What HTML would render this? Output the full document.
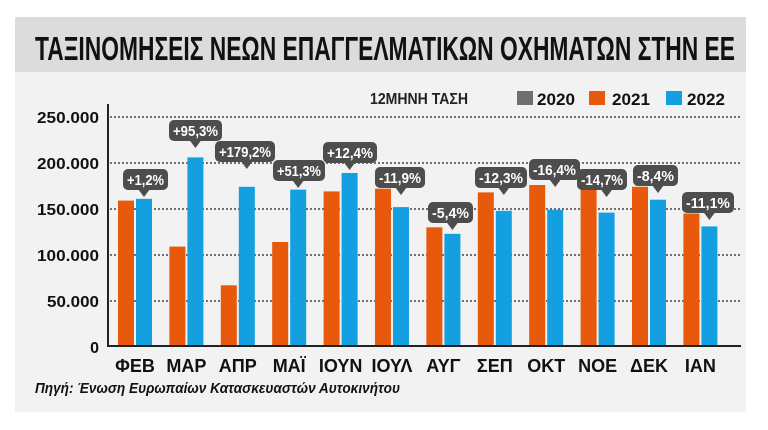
<!DOCTYPE html>
<html><head><meta charset="utf-8"><style>
html,body{margin:0;padding:0;background:#fff;}
svg{display:block;font-family:"Liberation Sans",sans-serif;}
</style></head><body>
<svg width="768" height="430" viewBox="0 0 768 430" xmlns="http://www.w3.org/2000/svg">
<rect x="15" y="17" width="731" height="395" fill="#f2f2f2"/>
<rect x="15" y="17" width="731" height="55" fill="#dcdcdc"/>
<text x="35" y="60" font-size="33" font-weight="bold" fill="#111" textLength="700" lengthAdjust="spacingAndGlyphs">ΤΑΞΙΝΟΜΗΣΕΙΣ ΝΕΩΝ ΕΠΑΓΓΕΛΜΑΤΙΚΩΝ ΟΧΗΜΑΤΩΝ ΣΤΗΝ ΕΕ</text>
<text x="370" y="104" font-size="16" font-weight="bold" fill="#222" textLength="98" lengthAdjust="spacingAndGlyphs">12ΜΗΝΗ ΤΑΣΗ</text>
<rect x="517" y="91" width="16" height="14" fill="#707070"/>
<text x="537" y="105" font-size="17" font-weight="bold" fill="#111" textLength="38" lengthAdjust="spacingAndGlyphs">2020</text>
<rect x="589" y="91" width="16" height="14" fill="#e8590c"/>
<text x="612" y="105" font-size="17" font-weight="bold" fill="#111" textLength="38" lengthAdjust="spacingAndGlyphs">2021</text>
<rect x="666" y="91" width="16" height="14" fill="#14a0e0"/>
<text x="687" y="105" font-size="17" font-weight="bold" fill="#111" textLength="38" lengthAdjust="spacingAndGlyphs">2022</text>
<g stroke="#444" stroke-width="1.5" stroke-dasharray="2,2">
<line x1="110" y1="117" x2="740" y2="117"/><line x1="110" y1="163" x2="740" y2="163"/><line x1="110" y1="209" x2="740" y2="209"/><line x1="110" y1="255" x2="740" y2="255"/><line x1="110" y1="301" x2="740" y2="301"/>
</g>
<g font-size="16" font-weight="bold" fill="#111" text-anchor="end">
<text x="99" y="123" textLength="62" lengthAdjust="spacingAndGlyphs">250.000</text><text x="99" y="169" textLength="62" lengthAdjust="spacingAndGlyphs">200.000</text><text x="99" y="215" textLength="62" lengthAdjust="spacingAndGlyphs">150.000</text><text x="99" y="261" textLength="62" lengthAdjust="spacingAndGlyphs">100.000</text><text x="99" y="307" textLength="52" lengthAdjust="spacingAndGlyphs">50.000</text><text x="99" y="353">0</text>
</g>
<g fill="#e8590c">
<rect x="118" y="200.6" width="16" height="145.4"/>
<rect x="169.4" y="246.6" width="16" height="99.4"/>
<rect x="220.8" y="285.3" width="16" height="60.7"/>
<rect x="272.2" y="242" width="16" height="104"/>
<rect x="323.6" y="191.4" width="16" height="154.6"/>
<rect x="375" y="188.7" width="16" height="157.3"/>
<rect x="426.4" y="227.3" width="16" height="118.7"/>
<rect x="477.8" y="192.4" width="16" height="153.6"/>
<rect x="529.2" y="185" width="16" height="161"/>
<rect x="580.6" y="188.7" width="16" height="157.3"/>
<rect x="632" y="186.8" width="16" height="159.2"/>
<rect x="683.4" y="213.5" width="16" height="132.5"/>
</g>
<g fill="#14a0e0">
<rect x="136" y="198.8" width="16" height="147.2"/>
<rect x="187.4" y="157.4" width="16" height="188.6"/>
<rect x="238.8" y="186.8" width="16" height="159.2"/>
<rect x="290.2" y="189.6" width="16" height="156.4"/>
<rect x="341.6" y="173" width="16" height="173"/>
<rect x="393" y="207.1" width="16" height="138.9"/>
<rect x="444.4" y="233.8" width="16" height="112.2"/>
<rect x="495.8" y="210.8" width="16" height="135.2"/>
<rect x="547.2" y="209.8" width="16" height="136.2"/>
<rect x="598.6" y="212.6" width="16" height="133.4"/>
<rect x="650" y="199.7" width="16" height="146.3"/>
<rect x="701.4" y="226.4" width="16" height="119.6"/>
</g>
<line x1="108" y1="104" x2="108" y2="347" stroke="#222" stroke-width="2"/>
<line x1="107" y1="346" x2="741" y2="346" stroke="#222" stroke-width="2"/>
<g font-size="18" font-weight="bold" fill="#111" text-anchor="middle">
<text x="135" y="372">ΦΕΒ</text><text x="186.4" y="372">ΜΑΡ</text><text x="237.8" y="372">ΑΠΡ</text><text x="289.2" y="372">ΜΑΪ</text><text x="340.6" y="372">ΙΟΥΝ</text><text x="392" y="372">ΙΟΥΛ</text><text x="443.4" y="372">ΑΥΓ</text><text x="494.8" y="372">ΣΕΠ</text><text x="546.2" y="372">ΟΚΤ</text><text x="597.6" y="372">ΝΟΕ</text><text x="649" y="372">ΔΕΚ</text><text x="700.4" y="372">ΙΑΝ</text>
</g>
<text x="35" y="393" font-size="15" font-weight="bold" font-style="italic" fill="#111" textLength="365" lengthAdjust="spacingAndGlyphs">Πηγή: Ένωση Ευρωπαίων Κατασκευαστών Αυτοκινήτου</text>
<g fill="#4d4d4d">
<rect x="123" y="169" width="45" height="21" rx="5"/><polygon points="138,189 150,189 144,197"/>
<rect x="169" y="120" width="53" height="21" rx="5"/><polygon points="189.4,140 201.4,140 195.4,148"/>
<rect x="215" y="141" width="60" height="21" rx="5"/><polygon points="240.8,161 252.8,161 246.8,169"/>
<rect x="273" y="160" width="52" height="21" rx="5"/><polygon points="292.2,180 304.2,180 298.2,188"/>
<rect x="323" y="142" width="54" height="21" rx="5"/><polygon points="343.6,162 355.6,162 349.6,170"/>
<rect x="375" y="167" width="50" height="21" rx="5"/><polygon points="395,187 407,187 401,195"/>
<rect x="428" y="202" width="45" height="21" rx="5"/><polygon points="446.4,222 458.4,222 452.4,230"/>
<rect x="475" y="167" width="52" height="21" rx="5"/><polygon points="497.8,187 509.8,187 503.8,195"/>
<rect x="529" y="159" width="51" height="21" rx="5"/><polygon points="549.2,179 561.2,179 555.2,187"/>
<rect x="577" y="169" width="50" height="21" rx="5"/><polygon points="600.6,189 612.6,189 606.6,197"/>
<rect x="633" y="165" width="45" height="21" rx="5"/><polygon points="652,185 664,185 658,193"/>
<rect x="682" y="192" width="52" height="21" rx="5"/><polygon points="703.4,212 715.4,212 709.4,220"/>
</g>
<g font-size="15" font-weight="bold" fill="#fff" text-anchor="middle" lengthAdjust="spacingAndGlyphs">
<text x="145.5" y="185" textLength="37" lengthAdjust="spacingAndGlyphs">+1,2%</text>
<text x="195.5" y="136" textLength="45" lengthAdjust="spacingAndGlyphs">+95,3%</text>
<text x="245" y="157" textLength="52" lengthAdjust="spacingAndGlyphs">+179,2%</text>
<text x="299" y="176" textLength="44" lengthAdjust="spacingAndGlyphs">+51,3%</text>
<text x="350" y="158" textLength="46" lengthAdjust="spacingAndGlyphs">+12,4%</text>
<text x="400" y="183" textLength="42" lengthAdjust="spacingAndGlyphs">-11,9%</text>
<text x="450.5" y="218" textLength="37" lengthAdjust="spacingAndGlyphs">-5,4%</text>
<text x="501" y="183" textLength="44" lengthAdjust="spacingAndGlyphs">-12,3%</text>
<text x="554.5" y="175" textLength="43" lengthAdjust="spacingAndGlyphs">-16,4%</text>
<text x="602" y="185" textLength="42" lengthAdjust="spacingAndGlyphs">-14,7%</text>
<text x="655.5" y="181" textLength="37" lengthAdjust="spacingAndGlyphs">-8,4%</text>
<text x="708" y="208" textLength="44" lengthAdjust="spacingAndGlyphs">-11,1%</text>
</g>
</svg>
</body></html>
